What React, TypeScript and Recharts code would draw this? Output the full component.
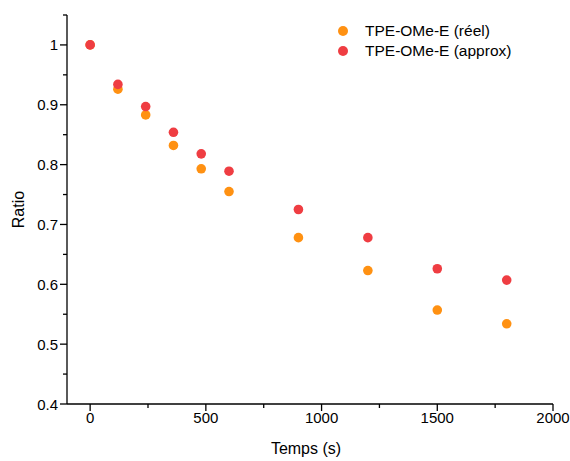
import React from 'react';
import { ScatterChart, Scatter, XAxis, YAxis, Legend, Label } from 'recharts';

const times = [0, 120, 240, 360, 480, 600, 900, 1200, 1500, 1800];
const reel = [1, 0.926, 0.883, 0.832, 0.793, 0.755, 0.678, 0.623, 0.557, 0.534];
const approx = [1, 0.934, 0.897, 0.854, 0.818, 0.789, 0.725, 0.678, 0.626, 0.607];
const seriesNames = ['TPE-OMe-E (réel)', 'TPE-OMe-E (approx)'];

const xTicks = [0, 250, 500, 750, 1000, 1250, 1500, 1750, 2000];
const yTicks = [0.4, 0.45, 0.5, 0.55, 0.6, 0.65, 0.7, 0.75, 0.8, 0.85, 0.9, 0.95, 1, 1.05];

const ORANGE = '#FF9112';
const RED = '#EF3D42';
const FONT = 'Arial, "Liberation Sans", sans-serif';

const reelData = times.map((t, i) => ({ t, v: reel[i] }));
const approxData = times.map((t, i) => ({ t, v: approx[i] }));

const XTick = (props: any) => {
  const { x, y, payload } = props;
  const major = payload.value % 500 === 0;
  return (
    <g>
      <line x1={x} x2={x} y1={y} y2={y + (major ? 7 : 4)} stroke="#000" strokeWidth={1.3} />
      {major && (
        <text x={x} y={y + 19} textAnchor="middle" fontSize={15} fontFamily={FONT} fill="#000">
          {payload.value}
        </text>
      )}
    </g>
  );
};

const YTick = (props: any) => {
  const { x, y, payload } = props;
  const major = Math.round(payload.value * 100) % 10 === 0;
  return (
    <g>
      <line x1={x} x2={x - (major ? 7 : 4)} y1={y} y2={y} stroke="#000" strokeWidth={1.3} />
      {major && (
        <text x={x - 9} y={y + 5.5} textAnchor="end" fontSize={15} fontFamily={FONT} fill="#000">
          {String(Math.round(payload.value * 10) / 10)}
        </text>
      )}
    </g>
  );
};

const Dot = (props: any) => {
  const { cx, cy, fill } = props;
  return <circle cx={cx} cy={cy} r={4.8} fill={fill} />;
};

const LegendBox = (props: any) => {
  // keep the series order, not alphabetical
  const items = [...(props.payload || [])].sort(
    (a: any, b: any) => seriesNames.indexOf(a.value) - seriesNames.indexOf(b.value)
  );
  return (
    <div style={{ fontFamily: FONT, fontSize: 15.5 }}>
      {items.map((p: any) => (
        <div key={p.value} style={{ display: 'flex', alignItems: 'center', height: 20 }}>
          <span style={{ width: 10, height: 10, borderRadius: 999, background: p.color, marginLeft: 2 }} />
          <span style={{ marginLeft: 17, color: '#000' }}>{p.value}</span>
        </div>
      ))}
    </div>
  );
};

export default function App() {
  return (
    <div style={{ position: 'absolute', left: 0, top: 0, width: 570, height: 461, background: '#fff' }}>
      <ScatterChart width={570} height={461} margin={{ top: 15, right: 17, bottom: 7, left: 0 }}>
        <XAxis
          type="number"
          dataKey="t"
          domain={[-100, 2000]}
          ticks={xTicks}
          allowDataOverflow
          height={50}
          tickSize={0}
          tickMargin={0}
          tickLine={false}
          tick={<XTick />}
          axisLine={{ stroke: '#000', strokeWidth: 1.3 }}
        >
          <Label
            content={() => (
              <text x={306} y={453.5} textAnchor="middle" fontSize={16} fontFamily={FONT} fill="#000">
                Temps (s)
              </text>
            )}
          />
        </XAxis>
        <YAxis
          type="number"
          dataKey="v"
          domain={[0.4, 1.05]}
          ticks={yTicks}
          allowDataOverflow
          width={67}
          tickSize={0}
          tickMargin={0}
          tickLine={false}
          tick={<YTick />}
          axisLine={{ stroke: '#000', strokeWidth: 1.3 }}
        >
          <Label
            content={() => (
              <text
                x={24}
                y={209.5}
                transform="rotate(-90 24 209.5)"
                textAnchor="middle"
                fontSize={16}
                fontFamily={FONT}
                fill="#000"
              >
                Ratio
              </text>
            )}
          />
        </YAxis>
        <Legend
          layout="vertical"
          align="center"
          verticalAlign="middle"
          content={<LegendBox />}
          wrapperStyle={{ left: 336, top: 21, width: 220 }}
        />
        <Scatter name={seriesNames[0]} data={reelData} fill={ORANGE} shape={<Dot />} isAnimationActive={false} />
        <Scatter name={seriesNames[1]} data={approxData} fill={RED} shape={<Dot />} isAnimationActive={false} />
      </ScatterChart>
    </div>
  );
}
